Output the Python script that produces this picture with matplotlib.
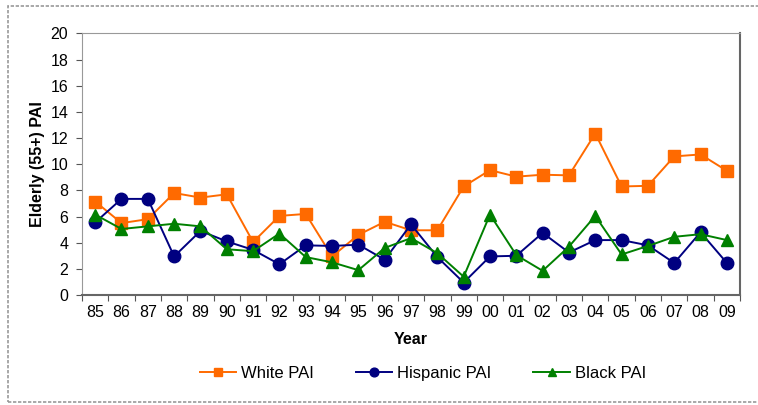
import matplotlib.pyplot as plt
from matplotlib.patches import Rectangle

plt.rcParams['font.family'] = ['Liberation Sans', 'DejaVu Sans']

years = ['85', '86', '87', '88', '89', '90', '91', '92', '93', '94', '95', '96', '97',
         '98', '99', '00', '01', '02', '03', '04', '05', '06', '07', '08', '09']
white_pai = [7.15, 5.5, 5.8, 7.8, 7.45, 7.7, 4.05, 6.05, 6.2, 2.95, 4.6, 5.6, 4.95,
             4.95, 8.3, 9.55, 9.05, 9.2, 9.15, 12.35, 8.3, 8.35, 10.6, 10.75, 9.5]
hispanic_pai = [5.55, 7.35, 7.35, 2.95, 4.9, 4.1, 3.45, 2.35, 3.8, 3.75, 3.85, 2.7, 5.4,
                2.9, 0.95, 2.95, 3.0, 4.75, 3.25, 4.2, 4.2, 3.8, 2.45, 4.8, 2.45]
black_pai = [6.15, 5.05, 5.25, 5.45, 5.25, 3.5, 3.35, 4.7, 2.9, 2.5, 1.9, 3.6, 4.35,
             3.2, 1.4, 6.15, 3.05, 1.85, 3.7, 6.05, 3.1, 3.75, 4.45, 4.65, 4.2]

fig = plt.figure(figsize=(7.58, 4.05), dpi=100)
ax = fig.add_axes([0.1082, 0.2716, 0.8681, 0.6457])

x = list(range(len(years)))
ax.plot(x, white_pai, color='#FF6A00', marker='s', markersize=8.5, lw=1.4,
        label='White PAI')
ax.plot(x, hispanic_pai, color='#000080', marker='o', markersize=9, lw=1.4,
        label='Hispanic PAI')
ax.plot(x, black_pai, color='#008000', marker='^', markersize=9, lw=1.4,
        label='Black PAI')

ax.set_xlim(-0.5, len(years) - 0.5)
ax.set_ylim(0, 20)
ax.set_yticks(range(0, 21, 2))

# ticks at category boundaries, labels centered in categories
ax.set_xticks([i - 0.5 for i in range(len(years) + 1)])
ax.set_xticklabels([])
ax.set_xticks(x, minor=True)
ax.set_xticklabels(years, minor=True)
ax.tick_params(axis='x', which='minor', length=0, pad=7, labelsize=11.5)
ax.tick_params(axis='x', which='major', length=4, direction='out', color='#555555')
ax.tick_params(axis='y', length=4, direction='out', labelsize=11.5, color='#555555', pad=6)

for side in ['top', 'left']:
    ax.spines[side].set_color('#999999')
for side in ['right', 'bottom']:
    ax.spines[side].set_color('#666666')
    ax.spines[side].set_linewidth(1.5)

ax.set_ylabel('Elderly (55+) PAI', fontsize=11.5, fontweight='bold', labelpad=4)
ax.set_xlabel('Year', fontsize=11.5, fontweight='bold', labelpad=9)

handles, labels = ax.get_legend_handles_labels()
leg = fig.legend(handles, labels, loc='center', ncol=3, frameon=False,
                 bbox_to_anchor=(0.558, 0.077), fontsize=12, markerscale=0.7,
                 handlelength=2.2, handletextpad=0.3, columnspacing=2.5)

# outer chart border (right edge runs off the picture)
fig.patches.append(Rectangle((8 / 758, 3 / 405), 1.1, 396 / 405,
                             transform=fig.transFigure, fill=False,
                             edgecolor='#999999', lw=1.2, ls=(0, (2, 1))))

fig.savefig('out.png', dpi=100)
